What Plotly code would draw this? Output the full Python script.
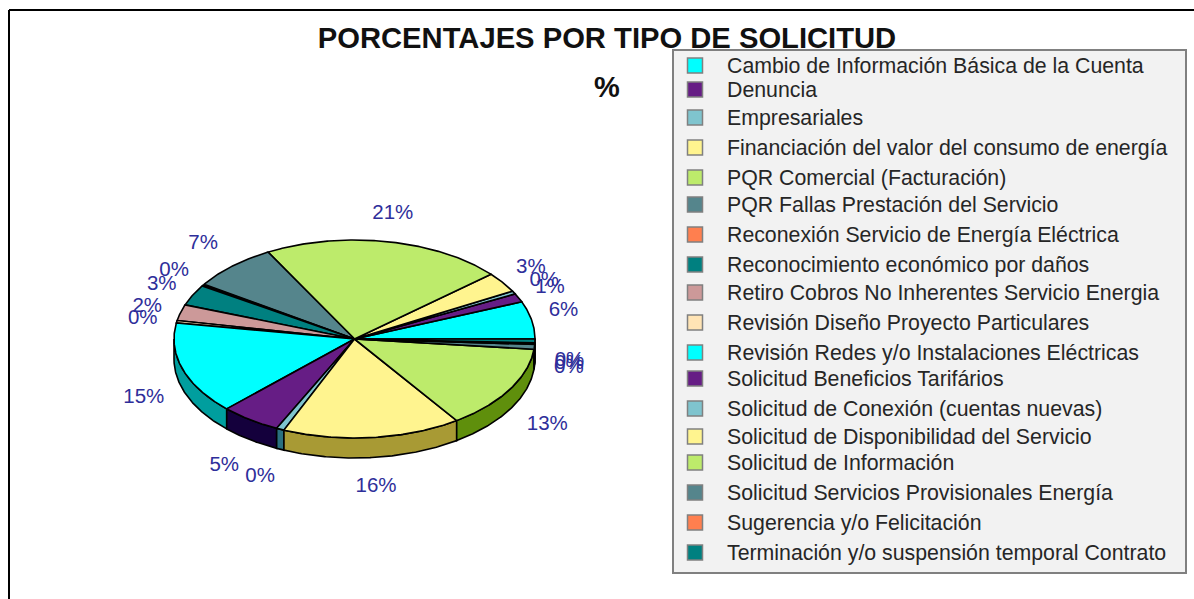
import math
import plotly.graph_objects as go

categories = [
    "Cambio de Información Básica de la Cuenta", "Denuncia", "Empresariales",
    "Financiación del valor del consumo de energía", "PQR Comercial (Facturación)",
    "PQR Fallas Prestación del Servicio", "Reconexión Servicio de Energía Eléctrica",
    "Reconocimiento económico por daños", "Retiro Cobros No Inherentes Servicio Energia",
    "Revisión Diseño Proyecto Particulares", "Revisión Redes y/o Instalaciones Eléctricas",
    "Solicitud Beneficios Tarifários", "Solicitud de Conexión (cuentas nuevas)",
    "Solicitud de Disponibilidad del Servicio", "Solicitud de Información",
    "Solicitud Servicios Provisionales Energía", "Sugerencia y/o Felicitación",
    "Terminación y/o suspensión temporal Contrato",
]
values = [6.1, 1.4, 0.5, 3.3, 21.5, 7.7, 0.3, 3.4, 2.6, 0.4, 15.0, 5.4, 0.7, 15.9, 13.7, 0.8, 0.25, 0.6]
value_labels = ["6%", "1%", "0%", "3%", "21%", "7%", "0%", "3%", "2%", "0%", "15%", "5%", "0%", "16%", "13%", "0%", "0%", "0%"]
top_colors = ["#00FFFF", "#661D85", "#7FC4CE", "#FFF48F", "#BDEB6B", "#55858C", "#FF7F4F", "#008080", "#CC9999",
              "#FFE4B5", "#00FFFF", "#661D85", "#7FC4CE", "#FFF48F", "#BDEB6B", "#55858C", "#FF7F4F", "#008080"]
side_colors = ["#009E9E", "#14003C", "#2A7080", "#A89A34", "#5F8F0C", "#2F555C", "#A04A20", "#004F4F", "#805050",
               "#A08A60", "#009E9E", "#14003C", "#2A7080", "#A89A34", "#5F8F0C", "#2F555C", "#A04A20", "#004F4F"]
legend_rows = [65, 89, 117, 147, 177, 204, 234, 264, 292, 322, 352, 378, 408, 436, 462, 492, 522, 552]

W, H = 1194, 599
CX, CY, RX, RY, DEPTH = 354.5, 339.0, 180.5, 99.0, 20.0
LABEL_RX, LABEL_RY, LABEL_DROP, LABEL_BASE = 215.0, 130.0, 16.0, 3.0
LABEL_NUDGE = {0: (-2, -6), 5: (-6, -2), 10: (-6, 0), 11: (-6, 2), 12: (-6, 0), 14: (8, 0)}
SWATCH_X, LEGEND_TEXT_X = 695, 727


def arc(a0, a1, dy=0.0):
    n = max(2, int(abs(a1 - a0) * 2) + 2)
    angs = [a0 + (a1 - a0) * i / (n - 1) for i in range(n)]
    return ([CX + RX * math.cos(math.radians(a)) for a in angs],
            [CY - RY * math.sin(math.radians(a)) + dy for a in angs])


total = sum(values)
bounds = [0.0]
for v in values:
    bounds.append(bounds[-1] + v / total * 360.0)

fig = go.Figure()
line = dict(color="black", width=1.6)

# side walls of the front half
for i in range(len(values)):
    a0, a1 = max(bounds[i], 180.0), min(bounds[i + 1], 360.0)
    if a1 > a0:
        xt, yt = arc(a0, a1)
        xb, yb = arc(a1, a0, DEPTH)
        fig.add_trace(go.Scatter(x=xt + xb + [xt[0]], y=yt + yb + [yt[0]], mode="lines", fill="toself",
                                 fillcolor=side_colors[i], line=line, showlegend=False, hoverinfo="skip"))
# top face
for i in range(len(values)):
    xa, ya = arc(bounds[i], bounds[i + 1])
    fig.add_trace(go.Scatter(x=[CX] + xa + [CX], y=[CY] + ya + [CY], mode="lines", fill="toself",
                             fillcolor=top_colors[i], line=line, showlegend=False,
                             name=categories[i], hoverinfo="name"))
# value labels
lx, ly = [], []
for i in range(len(values)):
    m = math.radians((bounds[i] + bounds[i + 1]) / 2)
    nx, ny = LABEL_NUDGE.get(i, (0, 0))
    lx.append(CX + LABEL_RX * math.cos(m) + nx)
    ly.append(CY - LABEL_RY * math.sin(m) + (LABEL_DROP if math.sin(m) < 0 else 0) + LABEL_BASE + ny)
fig.add_trace(go.Scatter(x=lx, y=ly, mode="text", text=value_labels, showlegend=False, hoverinfo="skip",
                         textfont=dict(family="Liberation Sans", size=20.5, color="#2E2E9A")))
# legend swatches and texts, on a panel drawn as a layout shape
fig.add_trace(go.Scatter(x=[SWATCH_X] * len(categories), y=[r + 0.5 for r in legend_rows], mode="markers",
                         showlegend=False, hoverinfo="skip",
                         marker=dict(symbol="square", size=15, color=top_colors,
                                     line=dict(color="#808080", width=1.5))))
fig.add_trace(go.Scatter(x=[LEGEND_TEXT_X] * len(categories), y=[r + 2.5 for r in legend_rows], mode="text",
                         text=categories, textposition="middle right", showlegend=False, hoverinfo="skip",
                         textfont=dict(family="Liberation Sans", size=21.3, color="#262626")))

fig.update_layout(
    width=W, height=H, margin=dict(l=0, r=0, t=0, b=0),
    paper_bgcolor="white", plot_bgcolor="white", autosize=False, showlegend=False,
    xaxis=dict(range=[0, W], visible=False, fixedrange=True),
    yaxis=dict(range=[H, 0], visible=False, fixedrange=True),
    title=dict(text="<b>PORCENTAJES POR TIPO DE SOLICITUD</b>", x=607 / W, y=1 - 38 / H,
               xanchor="center", yanchor="middle",
               font=dict(family="Liberation Sans", size=29.2, color="#111111")),
    annotations=[dict(text="<b>%</b>", x=607, y=87, xref="x", yref="y", showarrow=False,
                      font=dict(family="Liberation Sans", size=29, color="#111111"))],
    shapes=[
        dict(type="line", xref="x", yref="y", x0=9, x1=W, y0=10, y1=10, line=dict(color="black", width=2)),
        dict(type="line", xref="x", yref="y", x0=9, x1=9, y0=10, y1=H, line=dict(color="black", width=2)),
        dict(type="rect", xref="x", yref="y", x0=673, x1=1186, y0=50, y1=573, layer="below",
             fillcolor="#F2F2F2", line=dict(color="#808080", width=2)),
    ],
)
fig.write_html("out.html", config=dict(displayModeBar=False),
               post_script="document.body.style.margin='0';")
